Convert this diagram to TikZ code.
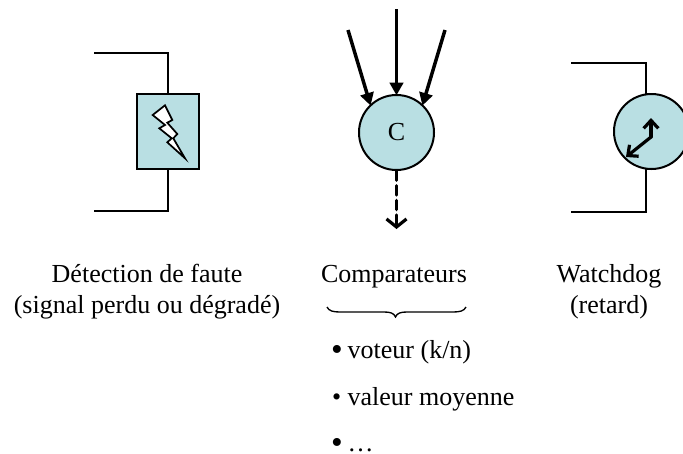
\documentclass[tikz,border=0pt]{standalone}
\usepackage{fontspec}
\setmainfont{Liberation Serif}
\usetikzlibrary{arrows.meta}
\definecolor{palecyan}{RGB}{185,223,227}
\newcommand{\puce}{\makebox[12.5pt][l]{\raisebox{-2pt}{\fontsize{25pt}{25pt}\selectfont •}}}
\tikzset{every picture/.style={line width=1.5pt}}
\tikzset{
  bloc/.style={draw,fill=palecyan,line width=1.5pt,inner sep=0pt,minimum width=62pt*0.75,minimum height=75pt*0.75},
  rond/.style={draw,circle,fill=palecyan,line width=1.5pt,inner sep=0pt,minimum size=75pt*0.75},
  texte/.style={inner sep=0.75pt,font=\fontsize{19.5pt}{23pt}\selectfont,align=center},
  fleche/.style={line width=2.6pt,-{Triangle[length=9.5pt,width=10pt]},shorten >=-1pt},
  ouverte/.style={line width=2.4pt,line cap=round,-{Straight Barb[length=6pt,width=#1,line width=2.4pt]}},
}

\begin{document}
\begin{tikzpicture}[x=0.75pt,y=0.75pt,yscale=-1,xscale=1]
\useasboundingbox (0,0) rectangle (683,454);

% Detection de faute
\node [bloc] (faute) at (168,131.5) {};
\coordinate (fauteA) at (94,52.7);
\coordinate (fauteB) at (94,211);
\draw (fauteA) -| (faute.north);
\draw (fauteB) -| (faute.south);
%Lightning
\draw [fill=white,line width=1.3pt,line join=miter] (165,105.3) -- (172.3,120) -- (167.3,122.7) -- (177.3,134) -- (173.3,138.3) -- (185,158.3) -- (167.3,142.3) -- (171.7,138.3) -- (159.3,128.3) -- (165,125) -- (152.7,115) -- cycle ;

% Comparateur
\node [rond,font=\fontsize{19.5pt}{23pt}\selectfont] (comp) at (396.5,132.5) {C};
\coordinate (compA) at (348,30);
\coordinate (compB) at (396.5,9);
\coordinate (compC) at (445,30);
\coordinate (compD) at (396.5,229);
\draw [fleche] (compA) -- (comp.133);
\draw [fleche] (compB) -- (comp);
\draw [fleche] (compC) -- (comp.47);
\draw [ouverte=15pt,dash pattern=on 7pt off 4pt] (comp.south) -- (compD);

% Watchdog
\coordinate (wdA) at (571,62.7);
\coordinate (wdB) at (646,62.7);
\coordinate (wdC) at (571,211.7);
\coordinate (wdD) at (646,211.7);
\draw (wdA) -- (wdB) -- (646,95);
\draw (wdC) -- (wdD) -- (646,168);
\node [rond] (wd) at (651.5,131.5) {};
\coordinate (wdO) at (651,137);
\coordinate (wdH) at (651,118);
\coordinate (wdM) at (626,157);
\draw [ouverte=11pt] (wdO) -- (wdH);
\draw [ouverte=11pt] (wdO) -- (wdM);

% Text Node
\node [texte,anchor=base] (tfaute) at (147,282) {Détection de faute};
\node [texte,anchor=base] (tsignal) at (147,313) {(signal perdu ou dégradé)};
\node [texte,anchor=base] (tcomp) at (394,282) {Comparateurs};
\node [texte,anchor=base] (twd) at (609,282) {Watchdog};
\node [texte,anchor=base] (tretard) at (609,313) {(retard)};
%Brace
\draw [line width=1pt] (327,307) .. controls (329,311) and (333,312) .. (340,312) -- (384,312) .. controls (390,312) and (394,313) .. (395.5,317) .. controls (397,313) and (401,312) .. (407,312) -- (453,312) .. controls (460,312) and (464,311) .. (466,307) ;
% Text Node
\node [texte,anchor=base west] (tvoteur) at (329,358) {\puce{}voteur (k/n)};
\node [texte,anchor=base west] (tmoyenne) at (330,405) {• valeur moyenne};
\node [texte,anchor=base west] (tautre) at (329,451) {\puce{}…};

\end{tikzpicture}
\end{document}
